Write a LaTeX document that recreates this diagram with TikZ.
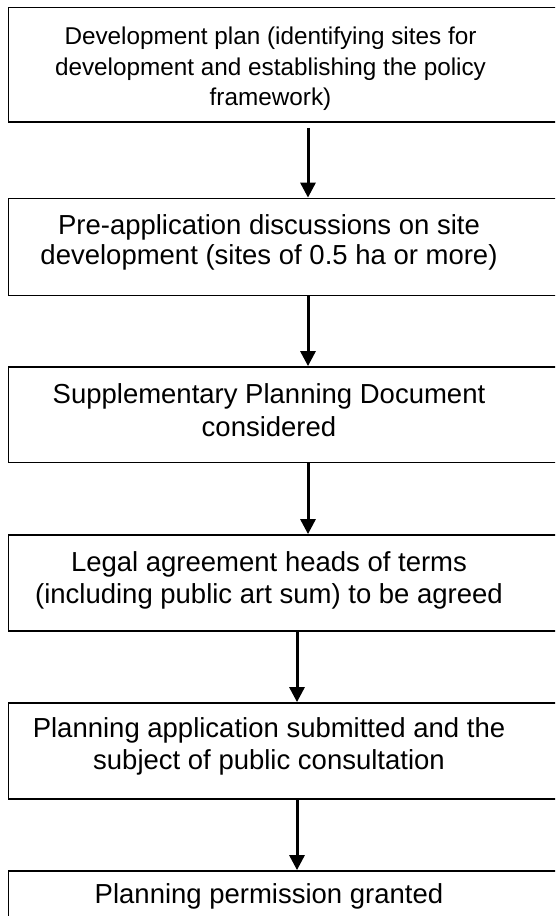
\documentclass[tikz,border=0pt]{standalone}
\usepackage{fontspec}
\setmainfont{Liberation Sans}
\usetikzlibrary{arrows.meta}
\tikzset{
  boxnode/.style={draw=black, line width=1.8pt, rectangle, inner sep=0pt, minimum width=591.5pt},
  txt/.style={align=center, inner sep=0pt, execute at begin node=\strut, execute at end node=\strut},
  arr/.style={line width=3pt, -{Triangle[width=15pt,length=15pt]}},
}
\newcommand{\fs}[2]{\fontsize{#1}{#2}\selectfont}
\begin{document}
\begin{tikzpicture}[x=1pt,y=-1pt]
\fill[white] (0,0) rectangle (555,916);
\useasboundingbox (0,0) rectangle (555,916);
\clip (0,0) rectangle (555,916);
\coordinate (ax1) at (308,0);
\coordinate (ax2) at (297,0);
\node[boxnode, minimum height=114.5pt] (b1) at (304.25,64.75) {};
\node[boxnode, minimum height=97pt] (b2) at (304.25,247) {};
\node[boxnode, minimum height=95.5pt] (b3) at (304.25,414.75) {};
\node[boxnode, minimum height=96pt] (b4) at (304.25,583) {};
\node[boxnode, minimum height=96pt] (b5) at (304.25,751) {};
\node[boxnode, minimum height=100pt] (b6) at (304.25,921) {};
\node[txt, font=\fs{24.3}{30.5}] (t1) at (270.5,71) {Development plan (identifying sites for\\development and establishing the policy\\framework)};
\node[txt, font=\fs{27.5}{30}] (t2) at (269,244) {Pre-application discussions on site\\development (sites of 0.5 ha or more)};
\node[txt, font=\fs{27.5}{33}] (t3) at (269,414.9) {Supplementary Planning Document\\considered};
\node[txt, font=\fs{27.5}{32}] (t4) at (269,582.6) {Legal agreement heads of terms\\(including public art sum) to be agreed};
\node[txt, font=\fs{27.5}{32}] (t5) at (269,748.6) {Planning application submitted and the\\subject of public consultation};
\node[txt, font=\fs{27.5}{31}] (t6) at (269,896.8) {Planning permission granted};
\draw[arr, shorten <=5pt] (b1.south -| ax1) -- (b2.north -| ax1);
\draw[arr] (b2.south -| ax1) -- (b3.north -| ax1);
\draw[arr] (b3.south -| ax1) -- (b4.north -| ax1);
\draw[arr] (b4.south -| ax2) -- (b5.north -| ax2);
\draw[arr] (b5.south -| ax2) -- (b6.north -| ax2);
\end{tikzpicture}
\end{document}
